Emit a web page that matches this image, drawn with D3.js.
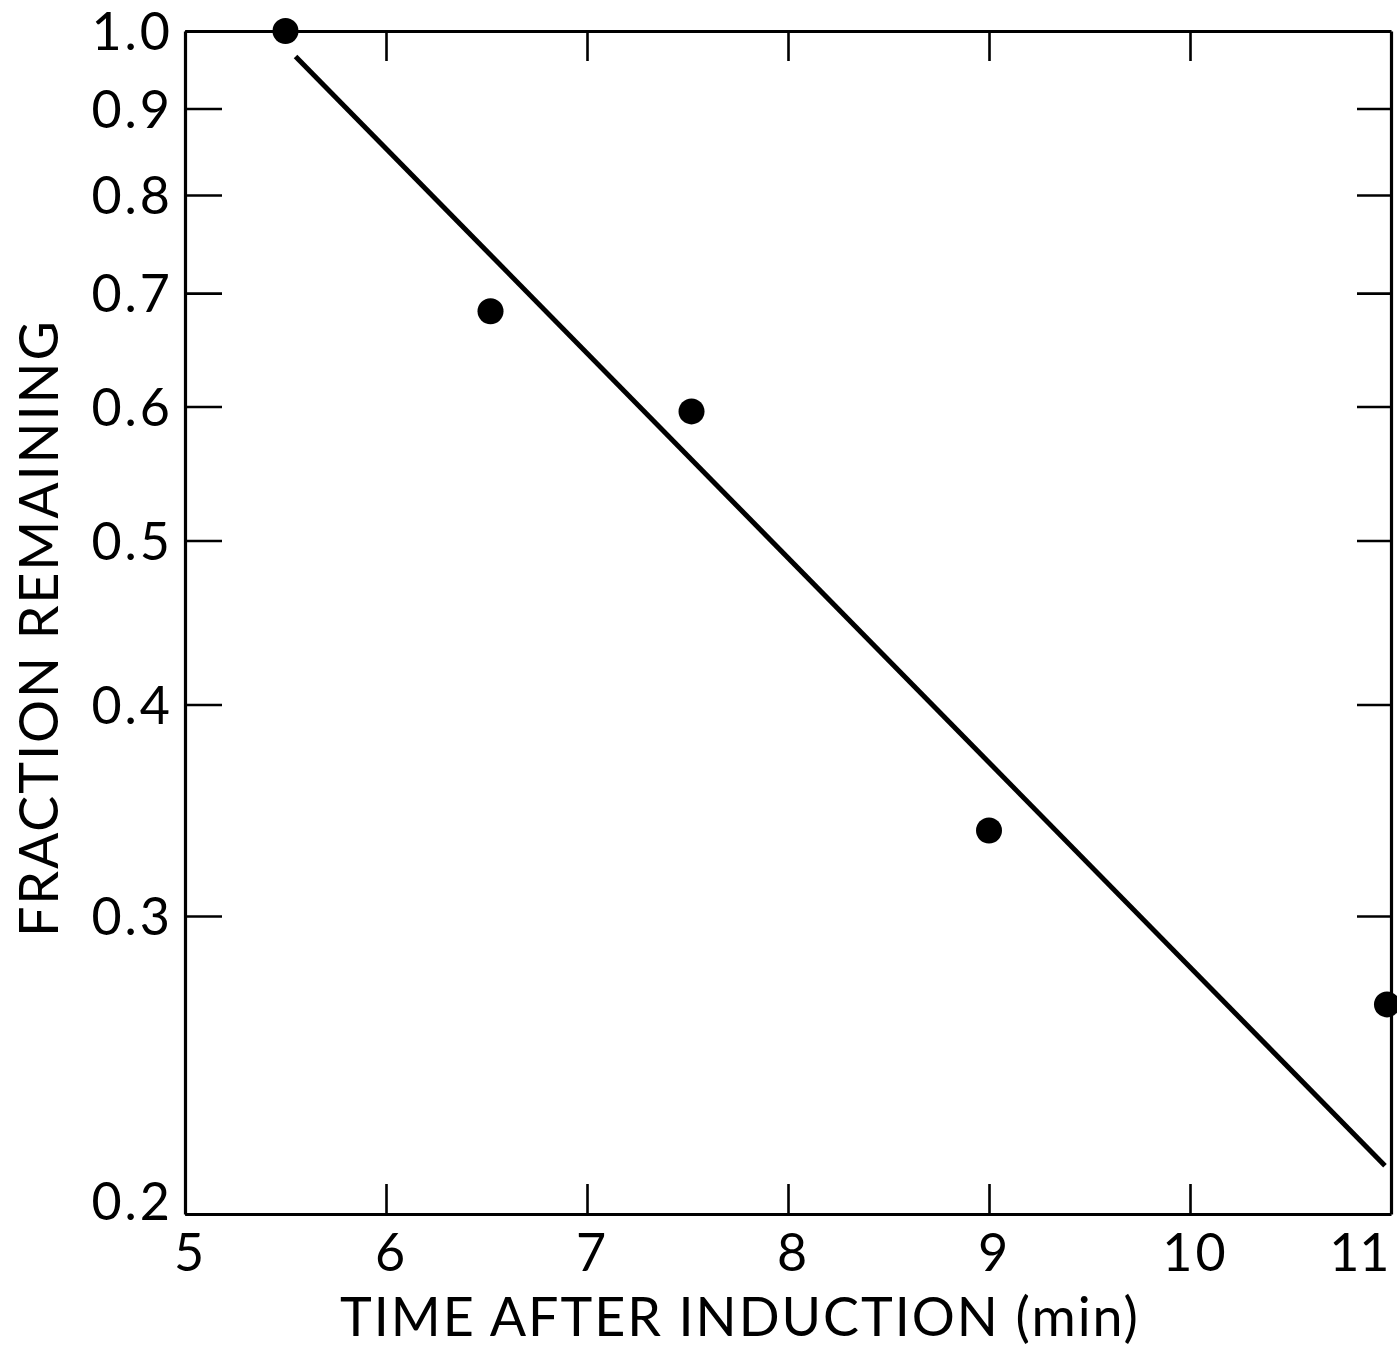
<!DOCTYPE html>
<html>
<head>
<meta charset="utf-8">
<script src="https://cdn.jsdelivr.net/npm/d3@7"></script>
<style>
  html, body { margin: 0; padding: 0; background: #fff; }
  svg { display: block; }
  .tick text { font-family: Lato, "Open Sans", sans-serif; font-size: 52px; letter-spacing: 3px; fill: #000; }
  .title { font-family: Lato, "Open Sans", sans-serif; font-size: 55px; letter-spacing: 2px; fill: #000; }
</style>
</head>
<body>
<svg id="chart" width="1397" height="1349"></svg>
<script>
// Measured fraction of material remaining vs. time after induction
const times = [5.5, 6.52, 7.52, 9.0, 10.98];
const fractions = [1.0, 0.683, 0.596, 0.337, 0.266];

// Fitted exponential decay (straight on the log axis)
const fitTimes = [5.55, 10.97];
const fitFractions = [0.966, 0.2136];

const xTicks = [5, 6, 7, 8, 9, 10, 11];
const yTicks = [0.2, 0.3, 0.4, 0.5, 0.6, 0.7, 0.8, 0.9, 1.0];

const svg = d3.select("#chart");
const plotLeft = 185, plotRight = 1391, plotTop = 31, plotBottom = 1214;

const x = d3.scaleLinear().domain([5, 11]).range([plotLeft, plotRight]);
const y = d3.scaleLog().domain([0.2, 1.0]).range([plotBottom, plotTop]);

function styleAxis(g) {
  g.selectAll(".domain").attr("stroke", "#000").attr("stroke-width", 3.2);
  g.selectAll(".tick line").attr("stroke", "#000").attr("stroke-width", 2.6);
}

// Left axis with inward ticks
svg.append("g")
  .attr("transform", `translate(${plotLeft},0)`)
  .call(d3.axisLeft(y).tickValues(yTicks).tickFormat(d3.format(".1f"))
    .tickSizeInner(-37).tickSizeOuter(0).tickPadding(12))
  .call(styleAxis)
  .call(g => g.selectAll(".tick text")
    .attr("dy", d => d === 0.2 ? "0.1em" : "0.36em"));

// Bottom axis with inward ticks; the last label sits flush with the frame
svg.append("g")
  .attr("transform", `translate(0,${plotBottom})`)
  .call(d3.axisBottom(x).tickValues(xTicks).tickFormat(d3.format("d"))
    .tickSizeInner(-30).tickSizeOuter(0).tickPadding(20))
  .call(styleAxis)
  .call(g => g.selectAll(".tick text")
    .attr("dy", "0.72em")
    .attr("dx", d => d === 11 ? -2 : 5)
    .attr("text-anchor", d => d === 11 ? "end" : "middle")
    .style("letter-spacing", d => d === 11 ? "0px" : null));

// Top and right frame with mirrored ticks
svg.append("g")
  .attr("transform", `translate(0,${plotTop})`)
  .call(d3.axisTop(x).tickValues(xTicks.slice(1, -1)).tickFormat("")
    .tickSizeInner(-30).tickSizeOuter(0))
  .call(styleAxis);

svg.append("g")
  .attr("transform", `translate(${plotRight},0)`)
  .call(d3.axisRight(y).tickValues(yTicks.slice(1, -1)).tickFormat("")
    .tickSizeInner(-34).tickSizeOuter(0))
  .call(styleAxis);

// Fit line
const line = d3.line().x(d => x(d[0])).y(d => y(d[1]));
svg.append("path")
  .datum(d3.zip(fitTimes, fitFractions))
  .attr("d", line)
  .attr("fill", "none")
  .attr("stroke", "#000")
  .attr("stroke-width", 5);

// Data points
svg.append("g")
  .selectAll("circle")
  .data(d3.zip(times, fractions))
  .join("circle")
  .attr("cx", d => x(d[0]))
  .attr("cy", d => y(d[1]))
  .attr("r", 13)
  .attr("fill", "#000");

// Axis titles: condensed horizontally to the lettering width
function fitTitle(sel, width) {
  const w = sel.node().getComputedTextLength();
  return width / w;
}

const xTitle = svg.append("g").attr("transform", "translate(340,1336)");
const xt = xTitle.append("text").attr("class", "title").text("TIME AFTER INDUCTION (min)");
xt.attr("transform", `scale(${fitTitle(xt, 800)},1)`);

const yTitle = svg.append("g").attr("transform", "translate(58,937) rotate(-90)");
const yt = yTitle.append("text").attr("class", "title").text("FRACTION REMAINING");
yt.attr("transform", `scale(${fitTitle(yt, 618)},1)`);
</script>
</body>
</html>
